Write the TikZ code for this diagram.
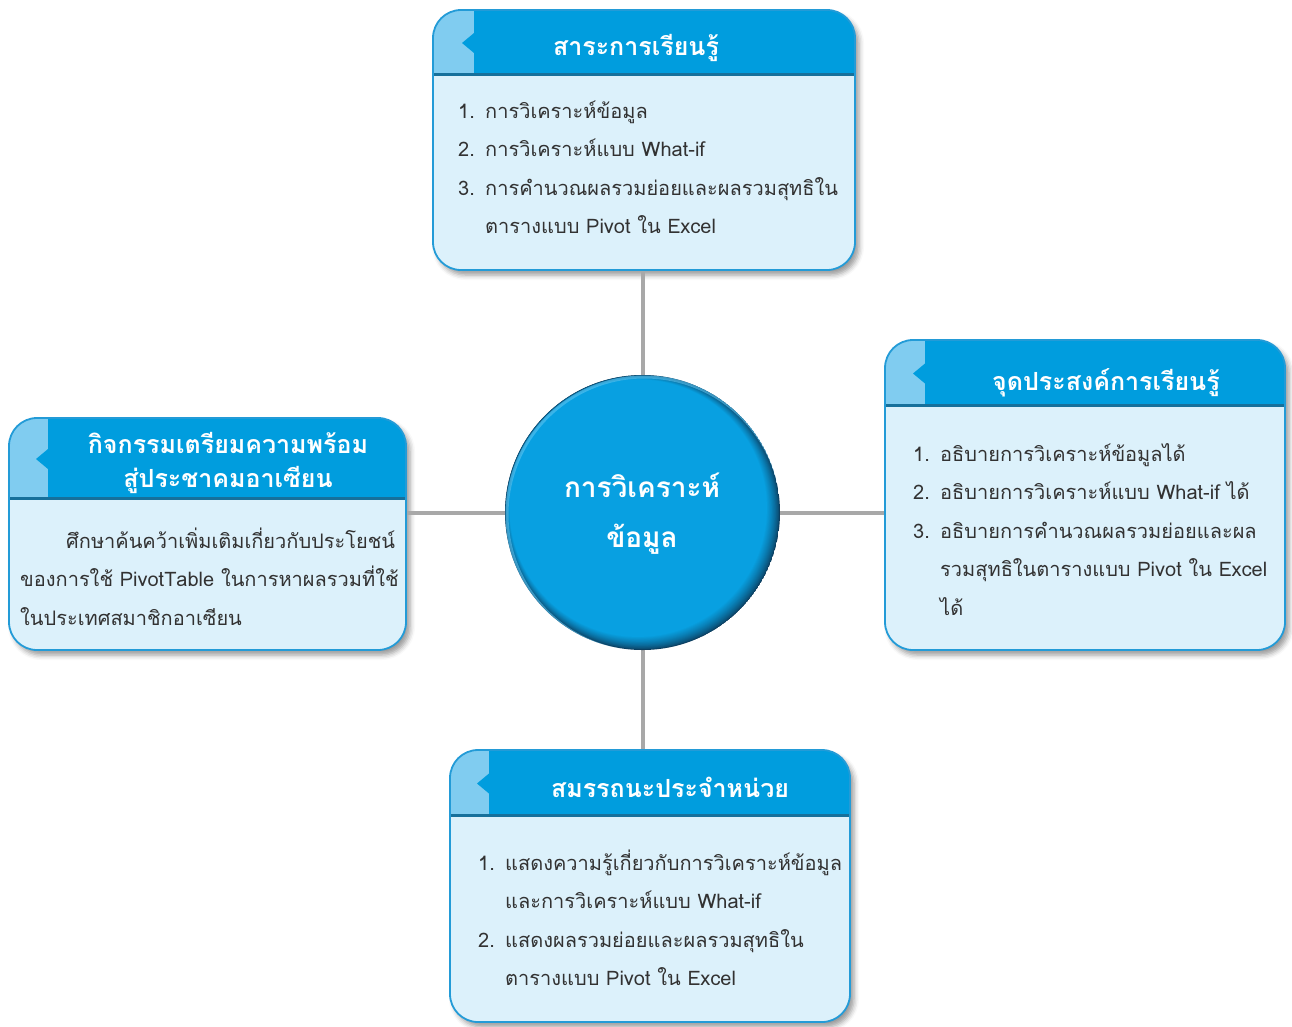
\documentclass[tikz,border=0pt]{standalone}
\usepackage{fontspec}
\newfontfamily\thai[Script=Thai]{Loma}
\usetikzlibrary{shadows.blur,calc}
\definecolor{headblue}{RGB}{0,157,222}
\definecolor{stripblue}{RGB}{128,204,240}
\definecolor{headdark}{RGB}{22,112,155}
\definecolor{bodyfill}{RGB}{220,241,251}
\definecolor{boxline}{RGB}{35,155,215}
\definecolor{txtcol}{RGB}{50,50,50}
\definecolor{connline}{RGB}{168,168,168}
\definecolor{circbase}{RGB}{8,160,225}
\definecolor{circlight}{RGB}{90,195,240}
\definecolor{circdark}{RGB}{12,62,95}
\newcommand\boxr{28pt}
\newcommand\drawhead[3]{%
  \begin{scope}
    \clip[rounded corners=\boxr] (#1.north west) rectangle (#1.south east);
    \fill[headblue] (#1.north west) rectangle ($(#1.north east)+(0,#2)$);
    \fill[stripblue] (#1.north west) rectangle ($(#1.north west)+(#3,#2)$);
    \fill[headblue] ($(#1.north west)+(#3,#2/2-10)$) -- ++(-12,10) -- ++(12,10) -- cycle;
    \fill[headdark] ($(#1.north west)+(0,#2-3.5)$) rectangle ($(#1.north east)+(0,#2)$);
  \end{scope}
  \draw[line width=1.8pt, boxline, rounded corners=\boxr] (#1.north west) rectangle (#1.south east);}
\tikzset{
  boxbody/.style={anchor=north west, rectangle, rounded corners=\boxr, fill=bodyfill, outer sep=0pt, inner sep=0pt,
    blur shadow={shadow xshift=4pt, shadow yshift=-5pt, shadow blur radius=5pt, shadow opacity=40}},
  conn/.style={draw=connline, line width=4pt},
  headtxt/.style={anchor=base, inner sep=0pt, text=white, font=\thai\bfseries\fontsize{25}{35}\selectfont},
  bodytxt/.style={anchor=base west, inner sep=0pt, text=txtcol, font=\thai\fontsize{20}{38.5}\selectfont},
  circtxt/.style={anchor=base, inner sep=0pt, text=white, font=\thai\bfseries\fontsize{28}{50}\selectfont},
}
\newcommand\num[1]{\makebox[27pt][l]{#1}}
\begin{document}
\begin{tikzpicture}[x=1pt,y=-1pt]
\useasboundingbox (0,0) rectangle (1292,1026);
% central circle
\node[circle, minimum size=275pt, inner sep=0pt, outer sep=0pt] (circ) at (642.5,512.5) {};
% boxes
\node[boxbody, minimum width=422pt, minimum height=260pt] (top) at (433,10) {};
\node[boxbody, minimum width=400pt, minimum height=310pt] (right) at (885,340) {};
\node[boxbody, minimum width=397pt, minimum height=232pt] (left) at (9,418) {};
\node[boxbody, minimum width=400pt, minimum height=272pt] (bot) at (450,750) {};
% connectors
\draw[conn] (circ.north) -- (circ.north |- top.south);
\draw[conn] (circ.south) -- (circ.south |- bot.north);
\draw[conn] (circ.west) -- (circ.west -| left.east);
\draw[conn] (circ.east) -- (circ.east -| right.west);
% redraw boxes above connectors
\fill[bodyfill, rounded corners=\boxr] (top.north west) rectangle (top.south east);
\fill[bodyfill, rounded corners=\boxr] (right.north west) rectangle (right.south east);
\fill[bodyfill, rounded corners=\boxr] (left.north west) rectangle (left.south east);
\fill[bodyfill, rounded corners=\boxr] (bot.north west) rectangle (bot.south east);
\drawhead{top}{66}{41}
\drawhead{right}{67}{40}
\drawhead{left}{82}{39}
\drawhead{bot}{67}{39}
% circle with darker lower-right rim
\begin{scope}
  \clip (circ.center) circle[radius=137.5];
  \foreach \k in {0,...,16}{
    \pgfmathsetmacro\pct{100*(\k/16)^0.7}
    \fill[circbase!\pct!circdark] ($(circ.center)+(-0.27*\k,-0.27*\k)$) circle[radius=137.5-0.55*\k];
  }
  \draw[circlight, line width=3pt, opacity=0.6] ($(circ.center)+(2,2)$) circle[radius=137.5];
\end{scope}
% titles
\node[headtxt] (topt) at (636,55) {สาระการเรียนรู้};
\node[headtxt] (rightt) at (1106,390) {จุดประสงค์การเรียนรู้};
\node[headtxt] (leftt) at (228,453) {\begin{tabular}[t]{@{}c@{}}กิจกรรมเตรียมความพร้อม\\[-1pt]สู่ประชาคมอาเซียน\end{tabular}};
\node[headtxt] (bott) at (670,797) {สมรรถนะประจำหน่วย};
\node[circtxt] (circt) at (642,497) {\begin{tabular}[t]{@{}c@{}}การวิเคราะห์\\ข้อมูล\end{tabular}};
% bodies
\node[bodytxt] (topb) at (458,118) {\begin{tabular}[t]{@{}l@{}}\num{1.}การวิเคราะห์ข้อมูล\\\num{2.}การวิเคราะห์แบบ What-if\\\num{3.}การคำนวณผลรวมย่อยและผลรวมสุทธิใน\\\num{}ตารางแบบ Pivot ใน Excel\end{tabular}};
\node[bodytxt] (rightb) at (913,461) {\begin{tabular}[t]{@{}l@{}}\num{1.}อธิบายการวิเคราะห์ข้อมูลได้\\\num{2.}อธิบายการวิเคราะห์แบบ What-if ได้\\\num{3.}อธิบายการคำนวณผลรวมย่อยและผล\\\num{}รวมสุทธิในตารางแบบ Pivot ใน Excel\\\num{}ได้\end{tabular}};
\node[bodytxt] (leftb) at (20,548) {\begin{tabular}[t]{@{}l@{}}\hspace*{46pt}ศึกษาค้นคว้าเพิ่มเติมเกี่ยวกับประโยชน์\\ของการใช้ PivotTable ในการหาผลรวมที่ใช้\\ในประเทศสมาชิกอาเซียน\end{tabular}};
\node[bodytxt] (botb) at (478,870) {\begin{tabular}[t]{@{}l@{}}\num{1.}แสดงความรู้เกี่ยวกับการวิเคราะห์ข้อมูล\\\num{}และการวิเคราะห์แบบ What-if\\\num{2.}แสดงผลรวมย่อยและผลรวมสุทธิใน\\\num{}ตารางแบบ Pivot ใน Excel\end{tabular}};
\end{tikzpicture}
\end{document}
